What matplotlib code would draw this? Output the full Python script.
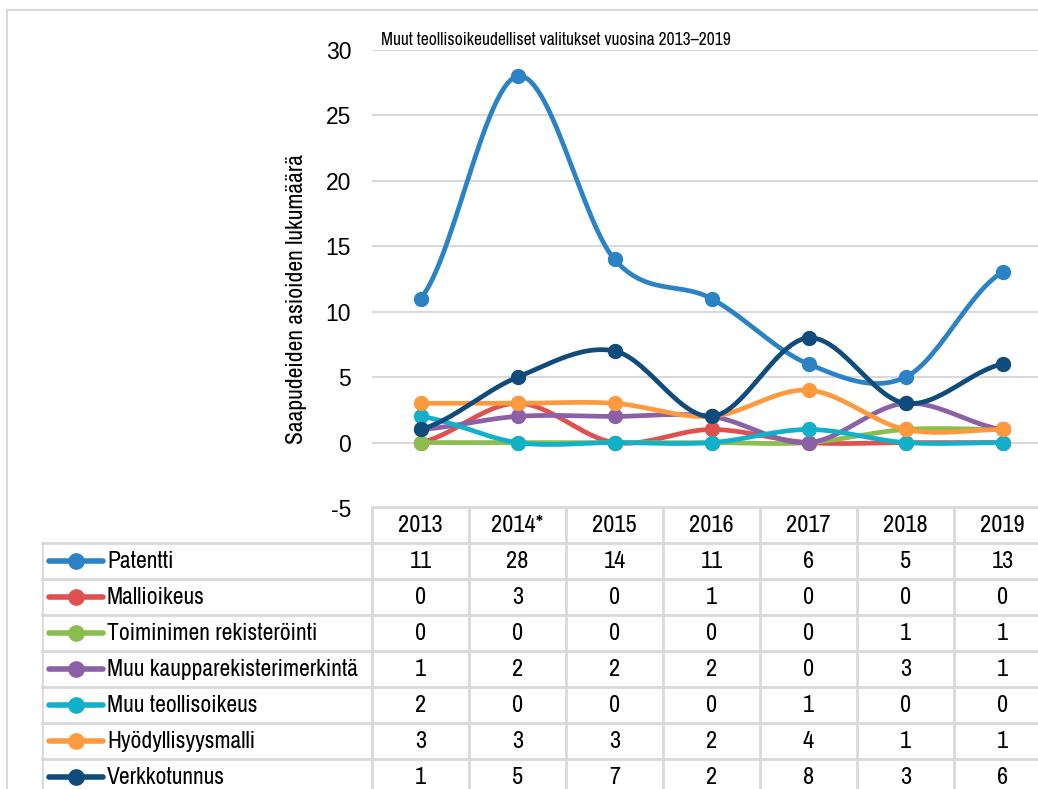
import numpy as np
import matplotlib
matplotlib.use("Agg")
import matplotlib.pyplot as plt
from matplotlib.lines import Line2D

# data
years = ["2013", "2014*", "2015", "2016", "2017", "2018", "2019"]
patentti = [11, 28, 14, 11, 6, 5, 13]
mallioikeus = [0, 3, 0, 1, 0, 0, 0]
toiminimi = [0, 0, 0, 0, 0, 1, 1]
kaupparekisteri = [1, 2, 2, 2, 0, 3, 1]
teollisoikeus = [2, 0, 0, 0, 1, 0, 0]
hyodyllisyysmalli = [3, 3, 3, 2, 4, 1, 1]
verkkotunnus = [1, 5, 7, 2, 8, 3, 6]

names = ["Patentti", "Mallioikeus", "Toiminimen rekisteröinti",
         "Muu kaupparekisterimerkintä", "Muu teollisoikeus",
         "Hyödyllisyysmalli", "Verkkotunnus"]
series = [patentti, mallioikeus, toiminimi, kaupparekisteri,
          teollisoikeus, hyodyllisyysmalli, verkkotunnus]
colors = ["#2b83c6", "#e0504f", "#8cbd4f", "#8c60a7",
          "#12b1c9", "#fd9a3d", "#0f4c7c"]

title = "Muut teollisoikeudelliset valitukset vuosina 2013–2019"
ylabel = "Saapudeiden asioiden lukumäärä"

W, H = 1038, 789
NARROW = ["Archivo Narrow", "Liberation Sans", "DejaVu Sans"]
REG = ["Liberation Sans", "DejaVu Sans"]
GRID = "#d9d9d9"
plt.rcParams["axes.unicode_minus"] = False

# layout in pixels
plot_left, band = 372, 97.0
top_px, bot_px = 50, 508
tab_left, tab_top, row_h = 42, 507, 36.0


def px2x(px):
    return -0.5 + (px - plot_left) / band


def smooth(xs, ys, n=30):
    # Catmull-Rom style curve like Excel's smoothed line
    xs = np.asarray(xs, float)
    ys = np.asarray(ys, float)
    px = np.concatenate([[2 * xs[0] - xs[1]], xs, [2 * xs[-1] - xs[-2]]])
    py = np.concatenate([[ys[0]], ys, [ys[-1]]])
    outx, outy = [], []
    for i in range(1, len(px) - 2):
        p0, p1, p2, p3 = (np.array([px[j], py[j]]) for j in range(i - 1, i + 3))
        c1 = p1 + (p2 - p0) / 6
        c2 = p2 - (p3 - p1) / 6
        t = np.linspace(0, 1, n)[:, None]
        b = ((1 - t) ** 3) * p1 + 3 * ((1 - t) ** 2) * t * c1 + 3 * (1 - t) * t ** 2 * c2 + t ** 3 * p2
        outx.extend(b[:, 0])
        outy.extend(b[:, 1])
    return outx, outy


fig = plt.figure(figsize=(W / 100, H / 100), dpi=100)

# chart border (cropped on right and bottom)
fig.add_artist(Line2D([7 / W, 7 / W], [0, 1 - 10 / H], color=GRID, lw=1.5))
fig.add_artist(Line2D([7 / W, 1], [1 - 10 / H, 1 - 10 / H], color=GRID, lw=1.5))

ax = fig.add_axes([plot_left / W, 1 - bot_px / H, (W - plot_left) / W, (bot_px - top_px) / H])
ax.set_xlim(-0.5, px2x(W))
ax.set_ylim(-5, 30)
ax.set_yticks(range(-5, 31, 5))
ax.set_xticks([])
for s in ax.spines.values():
    s.set_visible(False)
ax.tick_params(axis="y", length=0, pad=15, labelsize=16.5)
for lab in ax.get_yticklabels():
    lab.set_family(REG)
for v in range(0, 31, 5):
    ax.axhline(v, color=GRID, lw=1.5, zorder=0)

x = np.arange(len(years))
for name, vals, c in zip(names, series, colors):
    sx, sy = smooth(x, vals)
    ax.plot(sx, sy, color=c, lw=3.4, solid_capstyle="round", clip_on=False)
    ax.plot(x, vals, "o", color=c, ms=10, clip_on=False)

ax.set_ylabel(ylabel, family=NARROW, fontsize=17)
ax.yaxis.set_label_coords((307 - plot_left) / (W - plot_left), (bot_px - 299) / (bot_px - top_px))
fig.text(556 / W, 1 - 40 / H, title, family=NARROW, fontsize=12.6, ha="center", va="center")

# data table
tax = fig.add_axes([tab_left / W, 0, (W - tab_left) / W, (H - tab_top) / H])
tax.set_xlim(px2x(tab_left), px2x(W))
tax.set_ylim((H - tab_top) / row_h, 0)
tax.axis("off")
nrows = len(names) + 1
tax.plot([-0.5, px2x(W)], [0, 0], color=GRID, lw=2, clip_on=False)
for r in range(1, nrows + 1):
    tax.plot([px2x(tab_left), px2x(W)], [r, r], color=GRID, lw=2, clip_on=False)
for k in range(len(years) + 1):
    tax.plot([k - 0.5, k - 0.5], [0, nrows], color=GRID, lw=2)
tax.plot([px2x(tab_left), px2x(tab_left)], [1, nrows], color=GRID, lw=2)

for i, yr in enumerate(years):
    tax.text(i, 0.5, yr, ha="center", va="center", family=NARROW, fontsize=17.5)
for r, (name, vals, c) in enumerate(zip(names, series, colors), start=1):
    tax.plot([px2x(49), px2x(103)], [r + 0.5, r + 0.5], color=c, lw=4, solid_capstyle="round")
    tax.plot([px2x(76)], [r + 0.5], "o", color=c, ms=11)
    tax.text(px2x(107), r + 0.5, name, ha="left", va="center", family=NARROW, fontsize=17)
    for i, v in enumerate(vals):
        tax.text(i, r + 0.5, str(v), ha="center", va="center", family=NARROW, fontsize=17.5)

fig.savefig("out.png", dpi=100)
